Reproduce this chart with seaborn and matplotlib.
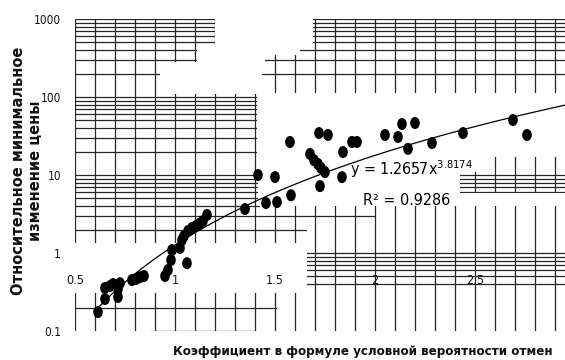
import numpy as np
import matplotlib
matplotlib.use("Agg")
import matplotlib.pyplot as plt
from matplotlib.patches import Rectangle
from matplotlib.path import Path
from matplotlib.transforms import Affine2D
from matplotlib.ticker import FixedLocator, FixedFormatter, NullLocator
import seaborn as sns

# Coefficient in the conditional cancellation-probability formula (x)
coef = [0.615, 0.65, 0.65, 0.675, 0.69, 0.715, 0.725, 0.715, 0.785, 0.805,
        0.825, 0.845, 0.95, 0.965, 0.98, 0.985, 1.025, 1.035, 1.045, 1.06,
        1.065, 1.085, 1.105, 1.12, 1.14, 1.16, 1.35, 1.455, 1.51, 1.415,
        1.5, 1.58, 1.575, 1.675, 1.695, 1.715, 1.73, 1.75, 1.725, 1.72,
        1.765, 1.84, 1.835, 1.885, 1.91, 2.05, 2.115, 2.135, 2.2, 2.165,
        2.285, 2.44, 2.69, 2.76]
# Relative minimal price change (y, log scale)
price_change = [0.175, 0.257, 0.356, 0.377, 0.40, 0.273, 0.41, 0.345, 0.45, 0.464,
                0.49, 0.507, 0.507, 0.605, 0.81, 1.09, 1.16, 1.47, 1.65, 0.74,
                1.91, 2.09, 2.22, 2.35, 2.57, 3.07, 3.66, 4.37, 4.5, 10.0,
                9.4, 5.5, 26.5, 18.6, 15.5, 13.8, 12.3, 10.9, 7.2, 34.5,
                32.6, 19.7, 9.4, 26.5, 26.5, 32.6, 30.7, 45.1, 46.4, 21.6,
                25.7, 34.5, 50.7, 32.6]

# Power-law trend: y = a * x^b
fit_a = 1.2657
fit_b = 3.8174
fit_r2 = 0.9286

y_ticks = [0.1, 1, 10, 100, 1000]
y_tick_labels = ["0.1", "1", "10", "100", "1000"]
x_ticks = [0.5, 1.0, 1.5, 2.0, 2.5]
x_tick_labels = ["0.5", "1", "1.5", "2", "2.5"]

sns.set_theme(style="white")
plt.rcParams["font.family"] = ["DejaVu Sans"]
plt.rcParams["mathtext.default"] = "regular"

W, H = 565, 360
AX_L, AX_R, AX_T, AX_B = 75, 565, 19, 331
fig = plt.figure(figsize=(W / 100, H / 100), dpi=100)
ax = fig.add_axes([AX_L / W, (H - AX_B) / H, (AX_R - AX_L) / W, (AX_B - AX_T) / H])
ax.set_yscale("log")
x_min, x_max = 0.5, 2.95
ax.set_xlim(x_min, x_max)
ax.set_ylim(0.1, 1000)
for s in ax.spines.values():
    s.set_visible(False)

grid_color = "#262626"
# horizontal grid: every log minor step, vertical grid: every 0.1
h_grid = [k * 10.0 ** e for e in range(-1, 3) for k in range(1, 10)] + [1000.0]
v_grid = np.round(np.arange(x_min, x_max + 0.001, 0.1), 2)


def blank(x0, x1, top, bottom, z):
    """White-out a rectangle given in figure pixels (worn-out grid areas)."""
    ax.add_patch(Rectangle(((x0 - AX_L) / (AX_R - AX_L), (AX_B - bottom) / (AX_B - AX_T)),
                           (x1 - x0) / (AX_R - AX_L), (bottom - top) / (AX_B - AX_T),
                           transform=ax.transAxes, facecolor="white",
                           edgecolor="none", zorder=z))


ax.hlines(h_grid, x_min, x_max, colors=grid_color, lw=0.9, zorder=0.5)
# gaps in the horizontal rules only
for r in [(260, 565, 194, 212), (375, 565, 205, 250), (307, 375, 222, 250),
          (75, 565, 288, 300), (277, 565, 300, 318),
          (75, 150, 325, 340), (255, 565, 325, 340)]:
    blank(*r, z=0.6)

ax.vlines(v_grid, 0.1, 1000, colors=grid_color, lw=0.9, zorder=0.7)
# gaps in both sets of rules
for r in [(215, 313, 0, 45), (197, 300, 45, 55), (197, 265, 55, 62),
          (160, 262, 62, 94), (257, 565, 93, 157), (257, 490, 157, 172),
          (258, 460, 172, 206), (455, 565, 193, 206), (75, 307, 243, 293)]:
    blank(*r, z=0.8)

# trend line
xs = np.linspace(0.6, x_max, 300)
sns.lineplot(x=xs, y=fit_a * xs ** fit_b, color="black", lw=0.9, ax=ax, zorder=2)

# data points as slightly tall ovals
oval = Affine2D().scale(0.8, 1.0).transform_path(Path.unit_circle())
sns.scatterplot(x=coef, y=price_change, marker=oval, s=75, color="black",
                edgecolor="none", linewidth=0, ax=ax, zorder=3)

tick_font = dict(family=["DejaVu Sans"], fontstretch="condensed", fontsize=9, color="#111111")
ax.yaxis.set_major_locator(FixedLocator(y_ticks))
ax.yaxis.set_major_formatter(FixedFormatter(y_tick_labels))
ax.yaxis.set_minor_locator(NullLocator())
ax.tick_params(axis="y", length=0, pad=10, labelsize=8.5, labelcolor="#111111")
for lab in ax.get_yticklabels():
    lab.set_fontstretch("condensed")
ax.xaxis.set_major_locator(NullLocator())
ax.xaxis.set_minor_locator(NullLocator())
# x labels sit just under the y = 1 line, where the horizontal axis crosses
for xv, lab in zip(x_ticks, x_tick_labels):
    ax.text(xv, 0.45, lab, ha="center", va="center", zorder=4, **tick_font)
ax.set_xlabel("")
ax.set_ylabel("")

eq_font = dict(family=["DejaVu Sans"], fontstretch="condensed", fontsize=11.5, color="black")
ax.text(1.875, 11.9, f"y = {fit_a}x$^{{\\mathregular{{{fit_b}}}}}$", ha="left", va="center",
        zorder=4, **eq_font)
ax.text(1.94, 4.78, f"R\u00b2 = {fit_r2}", ha="left", va="center", zorder=4, **eq_font)

fig.text(27 / W, (H - 171) / H, "Относительное минимальное\nизменение цены",
         rotation=90, ha="center", va="center", multialignment="center",
         fontsize=10.5, fontweight="bold", linespacing=1.1, color="#111111")
fig.text(363 / W, (H - 352) / H, "Коэффициент в формуле условной вероятности отмен",
         ha="center", va="center", fontsize=9.5, fontweight="bold",
         fontstretch="condensed", color="#111111")

fig.savefig("out.png", dpi=100, facecolor="white")
